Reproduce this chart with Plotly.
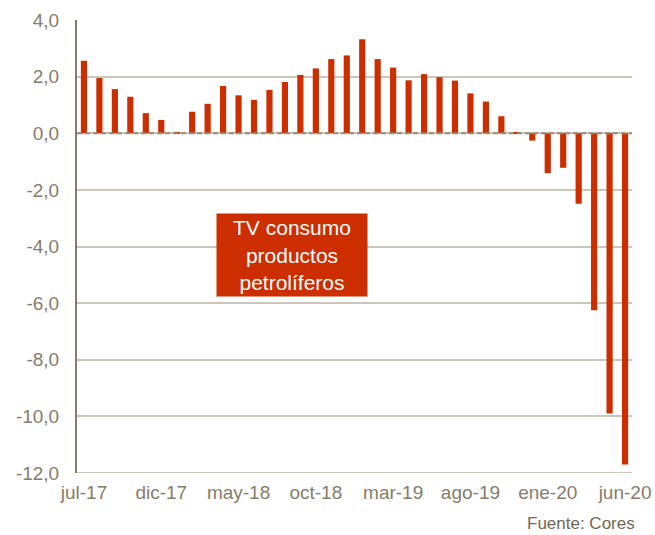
import plotly.graph_objects as go

months = ["jul-17","ago-17","sep-17","oct-17","nov-17","dic-17",
          "ene-18","feb-18","mar-18","abr-18","may-18","jun-18",
          "jul-18","ago-18","sep-18","oct-18","nov-18","dic-18",
          "ene-19","feb-19","mar-19","abr-19","may-19","jun-19",
          "jul-19","ago-19","sep-19","oct-19","nov-19","dic-19",
          "ene-20","feb-20","mar-20","abr-20","may-20","jun-20"]
values = [2.56, 1.95, 1.56, 1.29, 0.71, 0.47,
          0.05, 0.76, 1.04, 1.67, 1.34, 1.18,
          1.53, 1.81, 2.06, 2.29, 2.62, 2.75,
          3.32, 2.62, 2.32, 1.87, 2.09, 1.98,
          1.86, 1.41, 1.12, 0.60, 0.01, -0.26,
          -1.41, -1.22, -2.49, -6.25, -9.90, -11.70]
tick_labels = ["jul-17","dic-17","may-18","oct-18","mar-19","ago-19","ene-20","jun-20"]
y_ticks = [4, 2, 0, -2, -4, -6, -8, -10, -12]
y_tick_text = ["4,0","2,0","0,0","-2,0","-4,0","-6,0","-8,0","-10,0","-12,0"]

idx = list(range(len(months)))
tick_idx = [months.index(m) for m in tick_labels]

axis_col = "#857C69"
grid_col = "#CCC6B8"
bar_col = "#CC2E00"
font_fam = "Liberation Sans, Arial, sans-serif"

fig = go.Figure()
fig.add_trace(go.Bar(x=idx, y=values, marker=dict(color=bar_col, line=dict(width=0)),
                     hovertext=months, showlegend=False))

fig.update_layout(
    width=655, height=535,
    margin=dict(l=77, r=23, t=20, b=62),
    paper_bgcolor="white", plot_bgcolor="white",
    bargap=0.6,
    font=dict(family=font_fam, color=axis_col, size=19),
    xaxis=dict(range=[-0.45, 35.45], tickvals=tick_idx, ticktext=tick_labels,
               showgrid=False, zeroline=False, showline=False, ticks="",
               automargin=False,
               tickfont=dict(size=19, color=axis_col), ticklabelstandoff=6),
    yaxis=dict(range=[-12, 4], tickvals=y_ticks, ticktext=y_tick_text,
               showgrid=True, gridcolor=grid_col, gridwidth=1.5,
               zeroline=False, showline=True, linecolor=axis_col, linewidth=2,
               automargin=False,
               ticks="", tickfont=dict(size=19, color=axis_col), ticklabelstandoff=12),
    shapes=[
        dict(type="line", xref="paper", yref="y", x0=0, x1=1, y0=0, y1=0,
             layer="above",
             line=dict(color="#938D7A", width=2, dash="5px,3px")),
        dict(type="line", xref="paper", yref="y", x0=0, x1=1, y0=-12, y1=-12,
             line=dict(color=grid_col, width=2)),
    ],
    annotations=[
        dict(xref="paper", yref="paper", x=(292-77)/555, y=(473-255)/453,
             text="TV consumo<br>productos<br>petrolíferos", showarrow=False,
             font=dict(color="white", size=21, family=font_fam),
             bgcolor=bar_col, width=146, height=78, borderpad=2, align="center"),
        dict(xref="paper", yref="paper", x=(637-77)/555, y=-(523-473)/453, xanchor="right",
             yanchor="middle", text="Fuente: Cores", showarrow=False,
             font=dict(color="#6E6757", size=17, family=font_fam)),
    ],
)

fig.write_html("out.html", config={"displayModeBar": False},
               post_script="document.body.style.margin='0';")
